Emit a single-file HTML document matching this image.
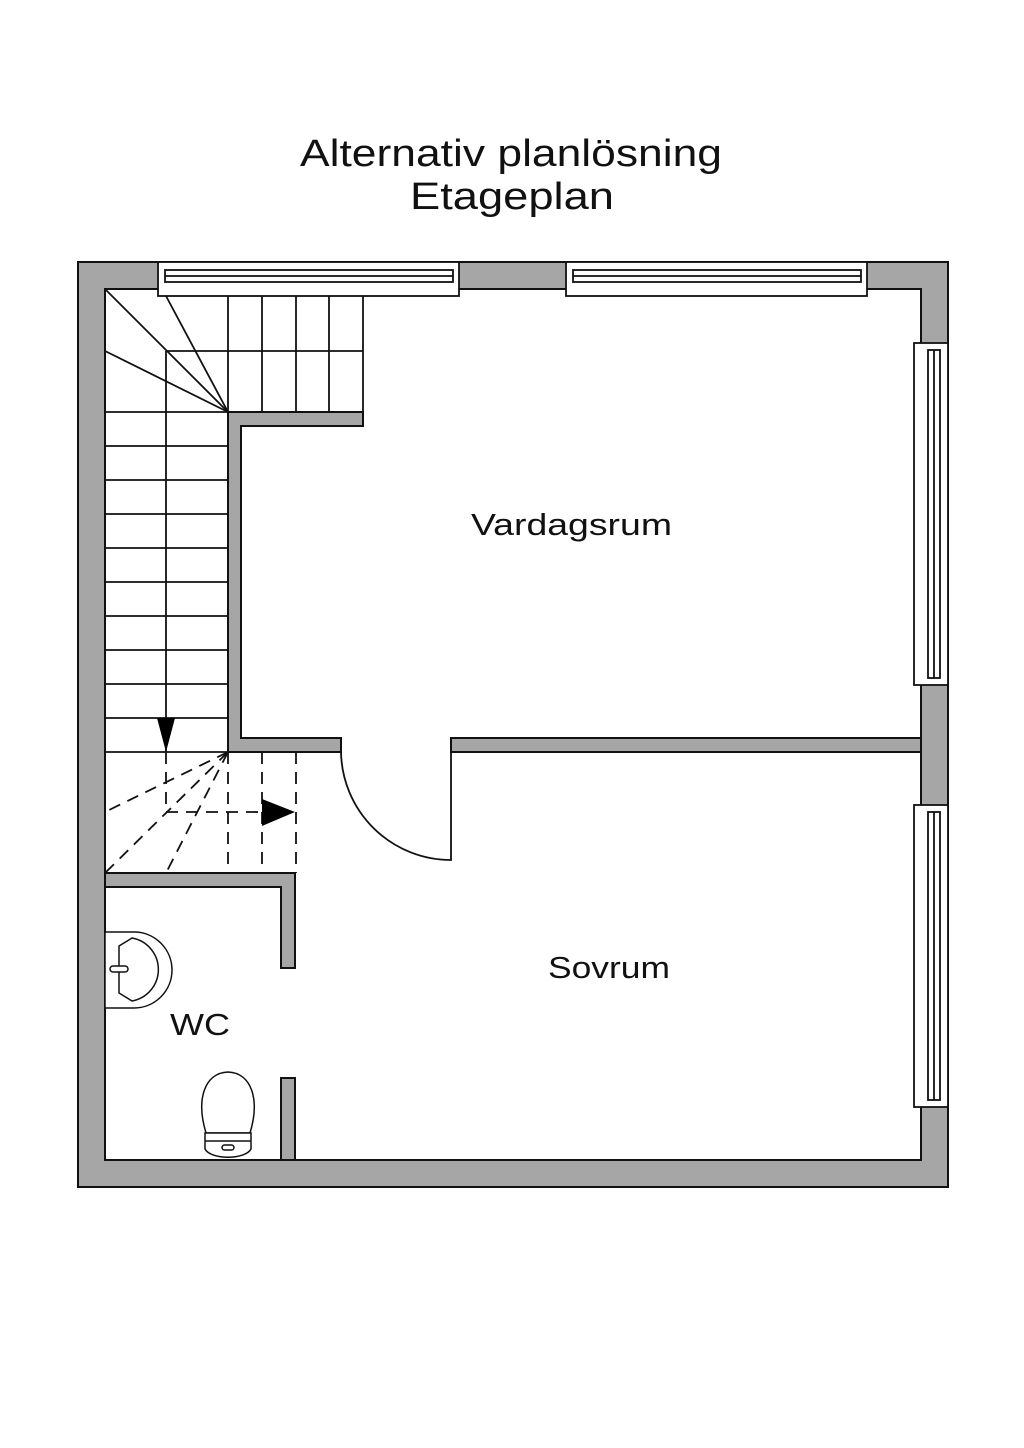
<!DOCTYPE html>
<html><head><meta charset="utf-8"><style>
html,body{margin:0;padding:0;background:#fff;}
svg{display:block;}
text{font-family:"Liberation Sans",sans-serif;fill:#111;}
</style></head><body>
<svg width="1024" height="1448" viewBox="0 0 1024 1448" xmlns="http://www.w3.org/2000/svg">
<text x="300" y="166" font-size="38" textLength="422" lengthAdjust="spacingAndGlyphs">Alternativ planlösning</text>
<text x="410" y="209" font-size="38" textLength="204" lengthAdjust="spacingAndGlyphs">Etageplan</text>

<g fill="#a6a6a6" stroke="#111" stroke-width="2">
<path fill-rule="evenodd" d="M78 262 H948 V1187 H78 Z M105 289 V1160 H921 V289 Z"/>
<path d="M228 752 V412 H363 V426 H241 V738 H341 V752 Z"/>
<path d="M451 738 H921 V752 H451 Z"/>
<path d="M105 873 H295 V968 H281 V887 H105 Z"/>
<path d="M281 1078 H295 V1160 H281 Z"/>
</g>

<g fill="#fff" stroke="#111" stroke-width="1.8">
<rect x="158" y="262" width="301" height="34"/>
<rect x="165" y="270" width="288" height="12"/>
<line x1="165" y1="276" x2="453" y2="276"/>
<rect x="566" y="262" width="301" height="34"/>
<rect x="573" y="270" width="288" height="12"/>
<line x1="573" y1="276" x2="861" y2="276"/>
<rect x="914" y="343" width="34" height="342"/>
<rect x="928" y="350" width="12" height="328"/>
<line x1="934" y1="350" x2="934" y2="678"/>
<rect x="914" y="805" width="34" height="302"/>
<rect x="928" y="812" width="12" height="288"/>
<line x1="934" y1="812" x2="934" y2="1100"/>
</g>

<g stroke="#111" stroke-width="1.8" fill="none">
<line x1="228" y1="296" x2="228" y2="412"/>
<line x1="262" y1="296" x2="262" y2="412"/>
<line x1="296" y1="296" x2="296" y2="412"/>
<line x1="329" y1="296" x2="329" y2="412"/>
<line x1="363" y1="296" x2="363" y2="412"/>
<line x1="166" y1="351" x2="363" y2="351"/>
<line x1="166" y1="351" x2="166" y2="752"/>
<line x1="228" y1="412" x2="105" y2="289"/>
<line x1="228" y1="412" x2="166" y2="296"/>
<line x1="228" y1="412" x2="105" y2="351"/>
<line x1="105" y1="412" x2="228" y2="412"/>
<line x1="105" y1="446" x2="228" y2="446"/>
<line x1="105" y1="480" x2="228" y2="480"/>
<line x1="105" y1="514" x2="228" y2="514"/>
<line x1="105" y1="548" x2="228" y2="548"/>
<line x1="105" y1="582" x2="228" y2="582"/>
<line x1="105" y1="616" x2="228" y2="616"/>
<line x1="105" y1="650" x2="228" y2="650"/>
<line x1="105" y1="684" x2="228" y2="684"/>
<line x1="105" y1="718" x2="228" y2="718"/>
<line x1="105" y1="752" x2="228" y2="752"/>
<g stroke-dasharray="12 8">
<line x1="228" y1="752" x2="105" y2="812"/>
<line x1="228" y1="752" x2="105" y2="873"/>
<line x1="228" y1="752" x2="166" y2="873"/>
<line x1="166" y1="752" x2="166" y2="812"/>
<line x1="166" y1="812" x2="262" y2="812"/>
<line x1="228" y1="752" x2="228" y2="873"/>
<line x1="262" y1="752" x2="262" y2="873"/>
<line x1="296" y1="752" x2="296" y2="873"/>
</g>
<path d="M341 752 A110 110 0 0 0 451 860 V752"/>
</g>
<polygon points="157,718 175,718 166,752" fill="#000"/>
<polygon points="262,799 262,826 295,812" fill="#000"/>

<g stroke="#111" stroke-width="1.5" fill="#fff">
<path d="M105 932 H134 A38 38 0 0 1 134 1008 H105 Z"/>
<path d="M119 946 L132 938 A32 32 0 0 1 132 1001 L119 993 Z"/>
<rect x="110" y="966" width="18" height="6" rx="3"/>
<path d="M206 1133 C196 1100 204 1073 228 1072 C252 1073 260 1100 250 1133 Z"/>
<path d="M205 1133 H251 V1149 C245 1160 211 1160 205 1149 Z"/>
<line x1="205" y1="1141" x2="251" y2="1141"/>
<rect x="222" y="1145" width="12" height="5" rx="2.5"/>
</g>

<text x="471" y="535" font-size="31" textLength="201" lengthAdjust="spacingAndGlyphs">Vardagsrum</text>
<text x="548" y="978" font-size="31" textLength="122" lengthAdjust="spacingAndGlyphs">Sovrum</text>
<text x="170" y="1035" font-size="31" textLength="60" lengthAdjust="spacingAndGlyphs">WC</text>
</svg>
</body></html>
